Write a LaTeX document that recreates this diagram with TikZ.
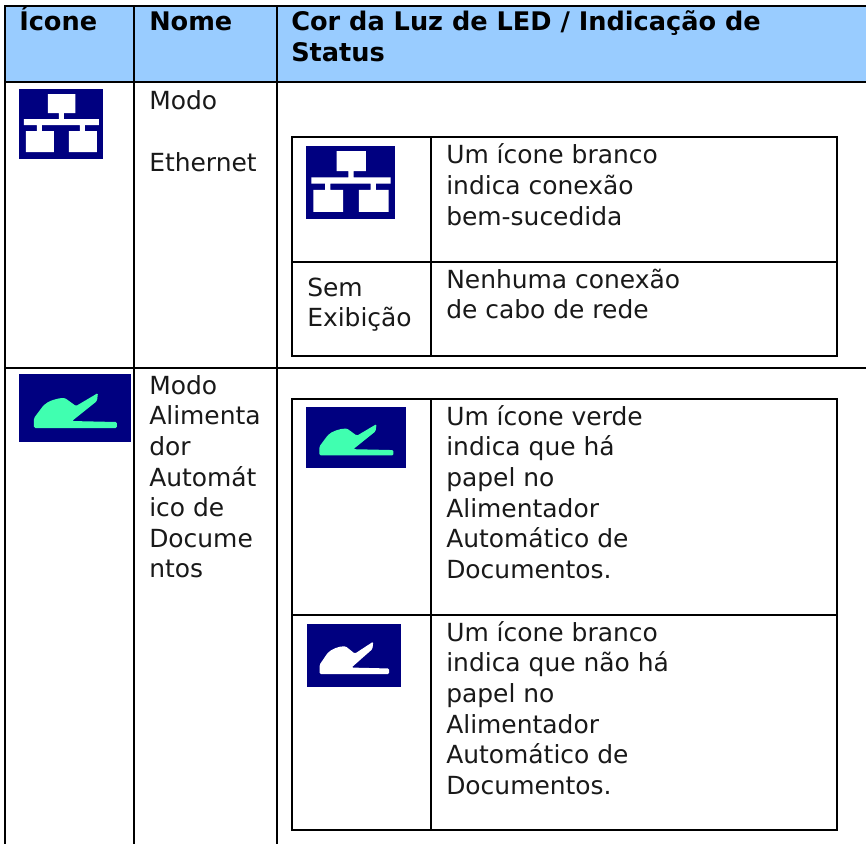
\documentclass[tikz,border=0pt]{standalone}
\usepackage{fontspec}
\setmainfont{DejaVu Sans}
\tikzset{
  x=0.75pt,y=-0.75pt,
  rule/.style={line width=2.1pt,black},
  txt/.style={anchor=base west,inner sep=0pt,font=\fontsize{18.7}{22}\selectfont,text=black!90},
  hdr/.style={anchor=base west,inner sep=0pt,font=\fontsize{19.2}{22}\selectfont\bfseries,text=black},
}
\definecolor{navy}{RGB}{0,0,128}
\definecolor{mint}{RGB}{64,255,176}
\definecolor{headblue}{RGB}{153,204,255}
% #1 left #2 top #3 width #4 height
\newcommand{\neticon}[4]{%
 \begin{scope}[shift={(#1,#2)},x=#3*0.0119*0.75pt,y=-#4*0.01429*0.75pt]
 \fill[navy] (0,0) rectangle (84,70);
 \fill[white] (29,5) rectangle (56.5,24) (40,24) rectangle (45,30)
   (5,30) rectangle (80,36) (18,36) rectangle (23,42) (61,36) rectangle (66,42)
   (7,42) rectangle (35,63) (50,42) rectangle (78,63);
 \end{scope}}
\newcommand{\feedicon}[5]{%
 \begin{scope}[shift={(#1,#2)},x=#3*0.00893*0.75pt,y=-#4*0.01471*0.75pt]
 \fill[navy] (0,0) rectangle (112,68);
 \fill[#5,rounded corners=1pt] (15,54) -- (15,44) -- (24,32) .. controls (29,27) and (38,24) .. (46,24)
   -- (57,32) -- (79,19) -- (78,27) -- (53,47) -- (98,48) -- (98,54) -- cycle;
 \end{scope}}
\begin{document}
\begin{tikzpicture}
\useasboundingbox (0,0) rectangle (866,844);
\fill[white] (0,0) rectangle (866,844);
\fill[headblue] (5,6) rectangle (866,82);
% outer rules
\draw[rule] (4,6) -- (866,6);
\draw[rule] (4,82) -- (866,82);
\draw[rule] (4,368) -- (866,368);
\draw[rule] (5,5) -- (5,844);
\draw[rule] (134,5) -- (134,844);
\draw[rule] (277,5) -- (277,844);
% inner table 1
\draw[rule] (292,137) rectangle (837,356);
\draw[rule] (292,262) -- (837,262);
\draw[rule] (431,137) -- (431,356);
% inner table 2
\draw[rule] (292,399) rectangle (837,830);
\draw[rule] (292,615) -- (837,615);
\draw[rule] (431,399) -- (431,830);
% header
\node[hdr] (h1) at (19,30) {Ícone};
\node[hdr] (h2) at (149,30) {Nome};
\node[hdr] (h3) at (291,30) {Cor da Luz de LED / Indicação de};
\node[hdr] (h3b) at (291,61) {Status};
% icons
\neticon{19}{89}{84}{70}
\neticon{306}{146}{89}{73}
\feedicon{19}{374}{112}{68}{mint}
\feedicon{306}{407}{100}{61}{mint}
\feedicon{307}{624}{94}{63}{white}
% names
\node[txt] (n1) at (149,109) {Modo};
\node[txt] (n2) at (149,171) {Ethernet};
\node[txt] (m1) at (149,394) {Modo};
\node[txt] (m2) at (149,424) {Alimenta};
\node[txt] (m3) at (149,455) {dor};
\node[txt] (m4) at (149,486) {Automát};
\node[txt] (m5) at (149,516) {ico de};
\node[txt] (m6) at (149,547) {Docume};
\node[txt] (m7) at (149,577) {ntos};
% inner 1 text
\node[txt] (a1) at (446,163) {Um ícone branco};
\node[txt] (a2) at (446,194) {indica conexão};
\node[txt] (a3) at (446,225) {bem-sucedida};
\node[txt] (b1) at (307,296) {Sem};
\node[txt] (b2) at (307,326) {Exibição};
\node[txt] (c1) at (446,288) {Nenhuma conexão};
\node[txt] (c2) at (446,318) {de cabo de rede};
% inner 2 text
\node[txt] (d1) at (446,425) {Um ícone verde};
\node[txt] (d2) at (446,455) {indica que há};
\node[txt] (d3) at (446,486) {papel no};
\node[txt] (d4) at (446,517) {Alimentador};
\node[txt] (d5) at (446,547) {Automático de};
\node[txt] (d6) at (446,578) {Documentos.};
\node[txt] (e1) at (446,641) {Um ícone branco};
\node[txt] (e2) at (446,671) {indica que não há};
\node[txt] (e3) at (446,702) {papel no};
\node[txt] (e4) at (446,733) {Alimentador};
\node[txt] (e5) at (446,763) {Automático de};
\node[txt] (e6) at (446,794) {Documentos.};
\end{tikzpicture}
\end{document}
